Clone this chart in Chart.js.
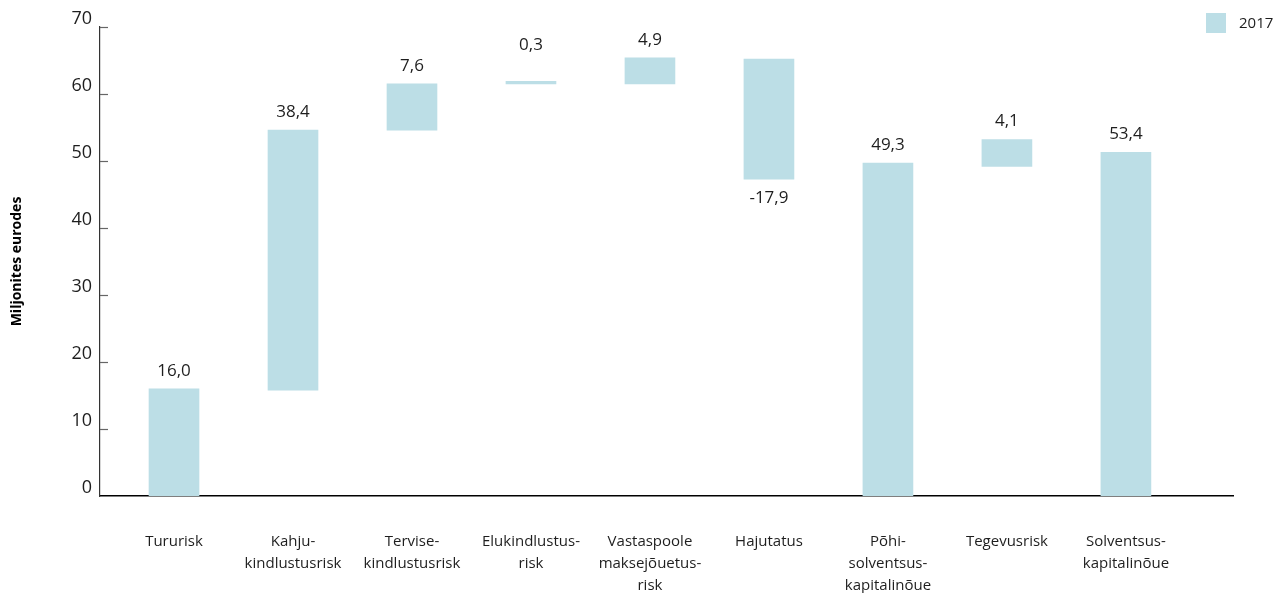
<!DOCTYPE html>
<html>
<head>
<meta charset="utf-8">
<script src="https://cdn.jsdelivr.net/npm/chart.js@4/dist/chart.umd.min.js"></script>
<style>
  html, body { margin: 0; padding: 0; background: #fff; }
  #wrap { width: 1282px; height: 593px; position: relative; }
</style>
</head>
<body>
<div id="wrap"><canvas id="c"></canvas></div>
<script>
// ---- data ----
const categories = [
  ['Tururisk'],
  ['Kahju-', 'kindlustusrisk'],
  ['Tervise-', 'kindlustusrisk'],
  ['Elukindlustus-', 'risk'],
  ['Vastaspoole', 'maksejõuetus-', 'risk'],
  ['Hajutatus'],
  ['Põhi-', 'solventsus-', 'kapitalinõue'],
  ['Tegevusrisk'],
  ['Solventsus-', 'kapitalinõue']
];
const barStart = [0, 15.8, 54.6, 61.5, 61.5, 65.2, 0, 49.2, 0];
const barEnd   = [16.0, 54.6, 61.5, 61.9, 65.4, 47.3, 49.7, 53.2, 51.3];
const values   = [16.0, 38.4, 7.6, 0.3, 4.9, -17.9, 49.3, 4.1, 53.4];
const seriesName = '2017';
const yTicks = [0, 10, 20, 30, 40, 50, 60, 70];

const FONT = "'Open Sans', 'Noto Sans', sans-serif";
const TEXT = '#1e1e1e';
const BAR = '#bcdee6';

const fmt = v => v.toFixed(1).replace('.', ',');

const barData = categories.map((c, i) => ({ x: i, y: [barStart[i], barEnd[i]] }));

const innerTicks = {
  id: 'innerTicks',
  afterDraw(chart) {
    const ctx = chart.ctx, ys = chart.scales.y, left = chart.chartArea.left;
    ctx.save();
    ctx.strokeStyle = '#666';
    ctx.lineWidth = 1.2;
    yTicks.forEach(t => {
      const py = Math.round(ys.getPixelForValue(t)) + 0.5;
      if (t === 0) return;
      ctx.beginPath();
      ctx.moveTo(left, py);
      ctx.lineTo(left + 8, py);
      ctx.stroke();
    });
    ctx.restore();
  }
};

const valueLabels = {
  id: 'valueLabels',
  afterDatasetsDraw(chart) {
    const ctx = chart.ctx;
    const meta = chart.getDatasetMeta(0);
    ctx.save();
    ctx.font = '17px ' + FONT;
    ctx.fillStyle = TEXT;
    ctx.textAlign = 'center';
    ctx.textBaseline = 'middle';
    meta.data.forEach((bar, i) => {
      const top = Math.min(bar.y, bar.base);
      const bottom = Math.max(bar.y, bar.base);
      let y;
      if (values[i] < 0) {
        y = bottom + 19;
      } else {
        y = top - 18;
        if (bottom - top < 6) y -= 18;
      }
      ctx.fillText(fmt(values[i]), bar.x, y);
    });
    ctx.restore();
  }
};

const customLegend = {
  id: 'customLegend',
  afterDraw(chart) {
    const ctx = chart.ctx;
    const x = chart.width - 76;
    ctx.save();
    ctx.fillStyle = BAR;
    ctx.fillRect(x, 13, 20, 20);
    ctx.font = '15px ' + FONT;
    ctx.fillStyle = TEXT;
    ctx.textAlign = 'left';
    ctx.textBaseline = 'middle';
    ctx.fillText(seriesName, x + 33, 24);
    ctx.restore();
  }
};

new Chart(document.getElementById('c'), {
  type: 'bar',
  data: {
    datasets: [{
      label: seriesName,
      data: barData,
      backgroundColor: BAR,
      borderWidth: 0,
      barThickness: 50
    }]
  },
  options: {
    responsive: true,
    maintainAspectRatio: false,
    animation: false,
    layout: { padding: { left: 0, right: 49, top: 27, bottom: 0 } },
    plugins: {
      legend: { display: false },
      tooltip: { enabled: false }
    },
    scales: {
      x: {
        type: 'linear',
        min: -0.622,
        max: 8.9,
        offset: false,
        bounds: 'data',
        grid: { display: false },
        border: { display: true, color: '#000', width: 1.5 },
        afterBuildTicks: s => { s.ticks = categories.map((c, i) => ({ value: i })); },
        ticks: {
          autoSkip: false,
          maxRotation: 0,
          padding: 27,
          color: TEXT,
          font: { family: FONT, size: 15, lineHeight: 1.45 },
          callback: v => {
            const i = Math.round(v);
            return (Math.abs(v - i) < 1e-6 && categories[i]) ? categories[i] : '';
          }
        },
        afterFit: s => { s.height = 97; }
      },
      y: {
        min: 0,
        max: 70,
        grid: { display: false },
        border: { display: true, color: '#333', width: 1.2 },
        ticks: {
          stepSize: 10,
          padding: 0,
          labelOffset: -8,
          color: TEXT,
          font: { family: FONT, size: 18 }
        },
        title: {
          display: true,
          text: 'Miljonites eurodes',
          color: '#000',
          font: { family: FONT, size: 14, weight: 'bold' },
          padding: { top: 9, bottom: 0 }
        },
        afterFit: s => { s.width = 100; }
      }
    }
  },
  plugins: [innerTicks, valueLabels, customLegend]
});
</script>
</body>
</html>
